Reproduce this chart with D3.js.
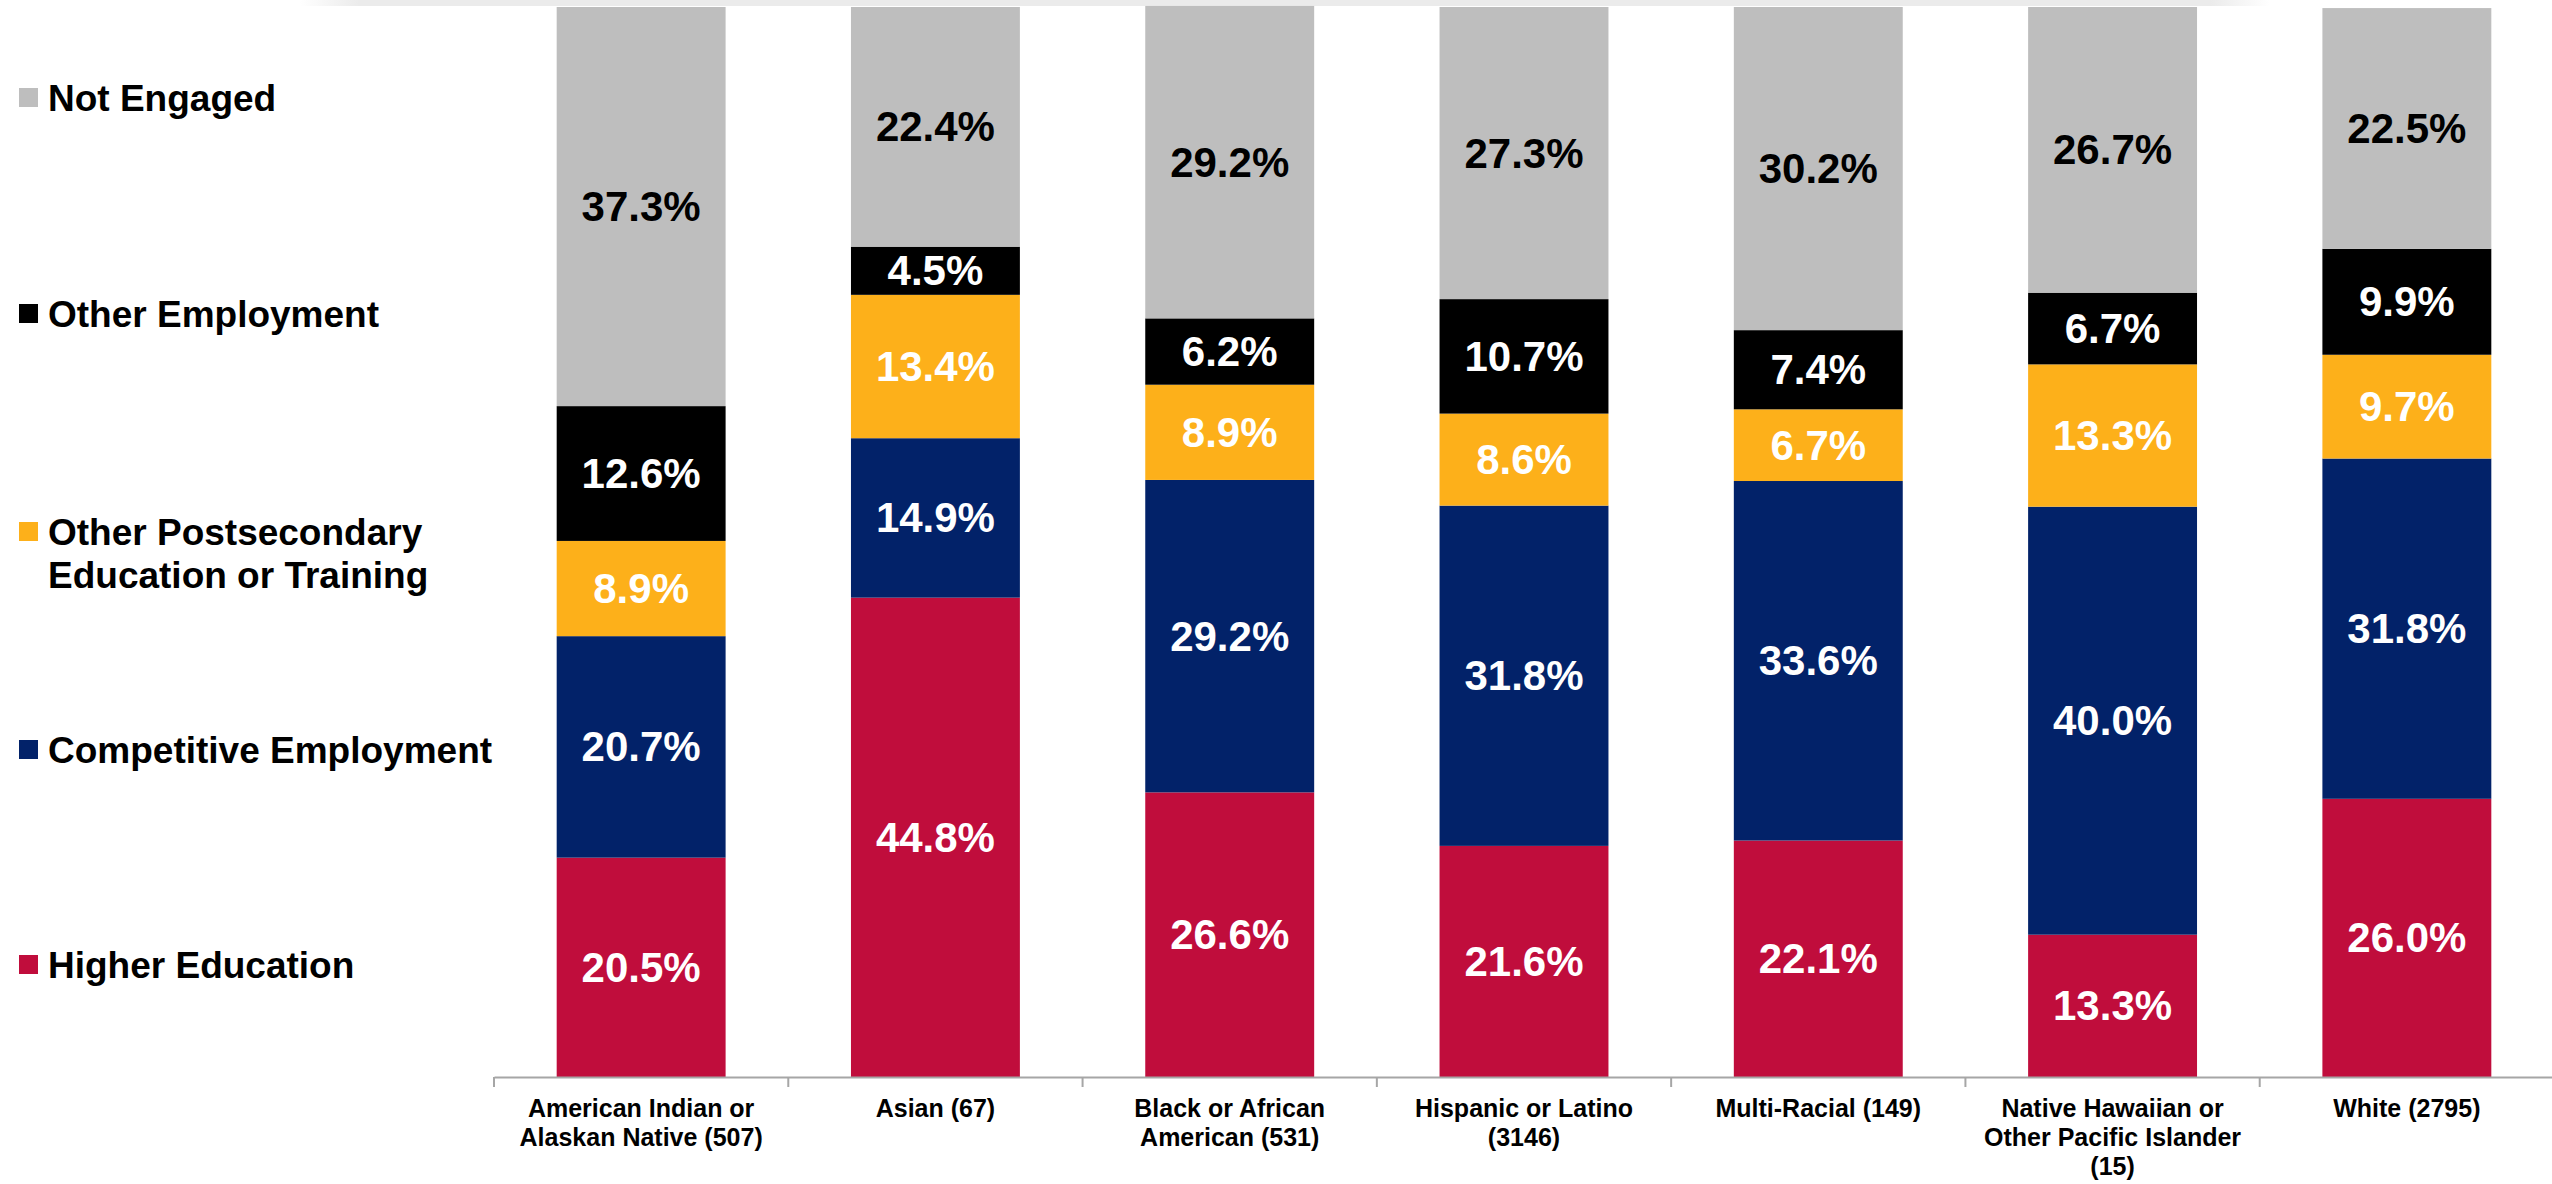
<html>
<meta charset="utf-8">

<head>
    <script src="https://d3js.org/d3.v7.min.js"></script>
    <style>
        body {
            margin: 0;
            background: #fff;
        }

        * {
            font-family: "Liberation Sans", Arial, sans-serif;
        }

        .legendLabel {
            font-size: 37px;
            font-weight: bold;
        }

        .barLabel {
            font-size: 42px;
            font-weight: bold;
        }

        .xaxis text {
            font-size: 25px;
            font-weight: bold;
            fill: #000;
        }

        .xaxis path,
        .xaxis line {
            stroke: #a6a6a6;
            stroke-width: 2;
        }
    </style>
</head>

<body>
    <svg id="stacked" width="2552" height="1184"></svg>

    <script>
        // groups (x axis), one line per text row
        const groups = [
            ["American Indian or", "Alaskan Native (507)"],
            ["Asian (67)"],
            ["Black or African", "American (531)"],
            ["Hispanic or Latino", "(3146)"],
            ["Multi-Racial (149)"],
            ["Native Hawaiian or", "Other Pacific Islander", "(15)"],
            ["White (2795)"]
        ];

        // series, bottom to top
        const seriesNames = ["Higher Education", "Competitive Employment", "Other Postsecondary Education or Training", "Other Employment", "Not Engaged"];
        const higherEducation = [20.5, 44.8, 26.6, 21.6, 22.1, 13.3, 26.0];
        const competitiveEmployment = [20.7, 14.9, 29.2, 31.8, 33.6, 40.0, 31.8];
        const otherPostsecondary = [8.9, 13.4, 8.9, 8.6, 6.7, 13.3, 9.7];
        const otherEmployment = [12.6, 4.5, 6.2, 10.7, 7.4, 6.7, 9.9];
        const notEngaged = [37.3, 22.4, 29.2, 27.3, 30.2, 26.7, 22.5];

        const colors = ["#c00d3c", "#022269", "#fdb01a", "#000000", "#bebebe"];
        const labelColors = ["#fff", "#fff", "#fff", "#fff", "#000"];

        // legend, top to bottom
        const legendItems = [
            { lines: ["Not Engaged"], color: "#bebebe" },
            { lines: ["Other Employment"], color: "#000000" },
            { lines: ["Other Postsecondary", "Education or Training"], color: "#fdb01a" },
            { lines: ["Competitive Employment"], color: "#022269" },
            { lines: ["Higher Education"], color: "#c00d3c" }
        ];

        const svg = d3.select("svg#stacked");

        // faint slide shadow at the very top
        const shadow = svg.append("defs").append("linearGradient").attr("id", "shadowGrad");
        shadow.append("stop").attr("offset", "0%").attr("stop-color", "#ebebeb").attr("stop-opacity", 0);
        shadow.append("stop").attr("offset", "3%").attr("stop-color", "#ebebeb").attr("stop-opacity", 1);
        shadow.append("stop").attr("offset", "97%").attr("stop-color", "#ebebeb").attr("stop-opacity", 1);
        shadow.append("stop").attr("offset", "100%").attr("stop-color", "#ebebeb").attr("stop-opacity", 0);
        svg.append("rect")
            .attr("x", 300).attr("y", 0)
            .attr("width", 1970).attr("height", 6)
            .attr("fill", "url(#shadowGrad)");

        const seriesValues = [higherEducation, competitiveEmployment, otherPostsecondary, otherEmployment, notEngaged];
        const table = groups.map((g, i) => {
            let row = { key: i };
            seriesNames.forEach((s, j) => row[s] = seriesValues[j][i]);
            return row;
        });

        const stack = d3.stack().keys(seriesNames);
        const stacked = stack(table);

        const xScale = d3.scaleBand()
            .domain(d3.range(groups.length))
            .range([494, 2554])
            .paddingInner(0.426)
            .paddingOuter(0.213);

        const yScale = d3.scaleLinear().domain([0, 100]).range([1077, 7]);

        let layers = svg.selectAll("g.layer").data(stacked)
            .join("g")
            .attr("class", "layer")
            .attr("fill", (d, i) => colors[i]);

        layers.selectAll("rect").data(d => d)
            .join("rect")
            .attr("x", d => xScale(d.data.key))
            .attr("width", xScale.bandwidth())
            .attr("y", d => yScale(d[1]))
            .attr("height", d => yScale(d[0]) - yScale(d[1]));

        stacked.forEach((layer, i) => {
            svg.append("g").selectAll("text").data(layer)
                .join("text")
                .attr("class", "barLabel")
                .attr("x", d => xScale(d.data.key) + xScale.bandwidth() / 2)
                .attr("y", d => (yScale(d[0]) + yScale(d[1])) / 2)
                .attr("text-anchor", "middle")
                .attr("dominant-baseline", "central")
                .attr("fill", labelColors[i])
                .text(d => (d[1] - d[0]).toFixed(1) + "%");
        });

        // x axis
        const bottomAxis = d3.axisBottom(xScale).tickSize(0).tickFormat("");
        let xAxisG = svg.append("g")
            .attr("class", "xaxis")
            .attr("transform", `translate(0,1077)`)
            .call(bottomAxis);

        // small ticks between the groups
        const step = xScale.step();
        xAxisG.selectAll("line.sep").data(d3.range(groups.length + 1))
            .join("line")
            .attr("class", "sep")
            .attr("x1", i => xScale.range()[0] + i * step)
            .attr("x2", i => xScale.range()[0] + i * step)
            .attr("y1", 0).attr("y2", 10);

        let catLabels = xAxisG.selectAll("text.cat").data(groups)
            .join("text")
            .attr("class", "cat")
            .attr("text-anchor", "middle")
            .attr("x", (d, i) => xScale(i) + xScale.bandwidth() / 2)
            .attr("y", 40);

        catLabels.selectAll("tspan").data(d => d)
            .join("tspan")
            .attr("x", function () { return d3.select(this.parentNode).attr("x"); })
            .attr("dy", (d, i) => i === 0 ? 0 : 29)
            .text(d => d);

        // legend
        const legendY = [98, 314, 532, 750, 965];
        let legend = svg.append("g").attr("id", "legend");
        legendItems.forEach((item, i) => {
            legend.append("rect")
                .attr("x", 19)
                .attr("y", legendY[i] - 10)
                .attr("width", 19)
                .attr("height", 19)
                .attr("fill", item.color);
            let t = legend.append("text")
                .attr("class", "legendLabel")
                .attr("x", 48)
                .attr("y", legendY[i])
                .attr("dominant-baseline", "central");
            item.lines.forEach((line, j) => {
                t.append("tspan").attr("x", 48).attr("dy", j === 0 ? 0 : 43).text(line);
            });
        });
    </script>
</body>

</html>
